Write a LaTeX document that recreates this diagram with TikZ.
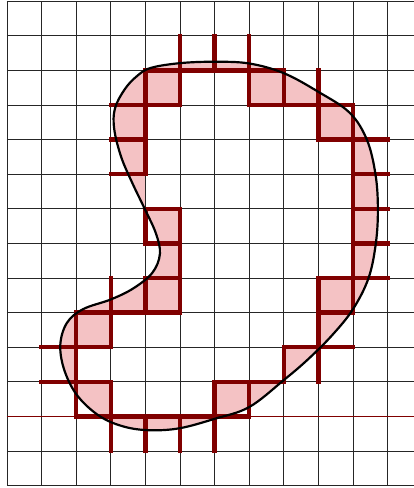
\documentclass[tikz,border=0pt]{standalone}
\usepackage{tikz}

\definecolor{cellred}{RGB}{128,0,0}
\definecolor{cellpink}{RGB}{244,194,196}

\tikzset{
  blob/.style={insert path={plot[smooth cycle, tension=0.6] coordinates {
    (4.15,12.07) (5.0,12.21) (6.0,12.25) (7.0,12.2) (8.0,11.92) (9.0,11.38)
    (9.9,10.78) (10.4,10.0) (10.65,9.0) (10.72,8.0) (10.66,7.0) (10.45,6.0)
    (10.0,5.1) (9.4,4.35) (8.7,3.65) (8.0,3.05) (7.0,2.27) (6.0,1.93)
    (5.0,1.66) (4.15,1.6) (3.4,1.7) (2.69,2.0) (2.05,2.58) (1.67,3.3)
    (1.54,4.05) (1.73,4.7) (2.2,5.1) (3.0,5.38) (3.65,5.7) (4.2,6.15)
    (4.42,6.7) (4.3,7.3) (3.98,8.0) (3.62,8.75) (3.3,9.5) (3.1,10.3)
    (3.12,10.9) (3.4,11.45) (3.75,11.83)}}}
}

\begin{document}
\begin{tikzpicture}[x=1cm, y=1cm,
    gridline/.style={black!85, line width=0.6pt},
    edgeline/.style={cellred, line width=3.6pt, line cap=rect},
    outline/.style={black, line width=1.8pt}]
  \useasboundingbox (-0.202,-0.069) rectangle (11.763,14.035);
  \clip (-0.202,-0.069) rectangle (11.763,14.035);

  % the region
  \fill[cellpink, blob];

  % cells lying inside
  \foreach \row/\from/\to in {11/5/6, 10/4/8, 9/4/9, 8/4/9, 7/5/9, 6/5/9,
      5/5/8, 4/3/8, 3/2/7, 2/3/5}
    \fill[white] (\from,\row) rectangle (\to+1,\row+1);

  % grid
  \draw[gridline] (0,0) grid (12,14);
  \draw[cellred, line width=0.6pt] (0,2) -- (12,2);

  % edges of the boundary cells
  \foreach \x/\a/\b in {2/2/5, 3/1/3, 3/4/6, 4/1/2, 4/5/6, 4/7/8, 4/9/12,
      5/1/2, 5/5/8, 5/11/13, 6/1/3, 6/12/13, 7/2/3, 7/11/13, 8/3/4,
      8/11/12, 9/3/6, 9/10/12, 10/5/11}
    \draw[edgeline] (\x,\a) -- (\x,\b);
  \foreach \y/\a/\b in {2/2/7, 3/1/3, 3/6/8, 4/1/3, 4/8/10, 5/2/5, 5/9/10,
      6/4/5, 6/9/11, 7/4/5, 7/10/11, 8/4/5, 8/10/11, 9/3/4, 9/10/11,
      10/3/4, 10/9/11, 11/3/5, 11/7/10, 12/4/8}
    \draw[edgeline] (\a,\y) -- (\b,\y);

  % the curve
  \draw[outline, blob];
\end{tikzpicture}
\end{document}
